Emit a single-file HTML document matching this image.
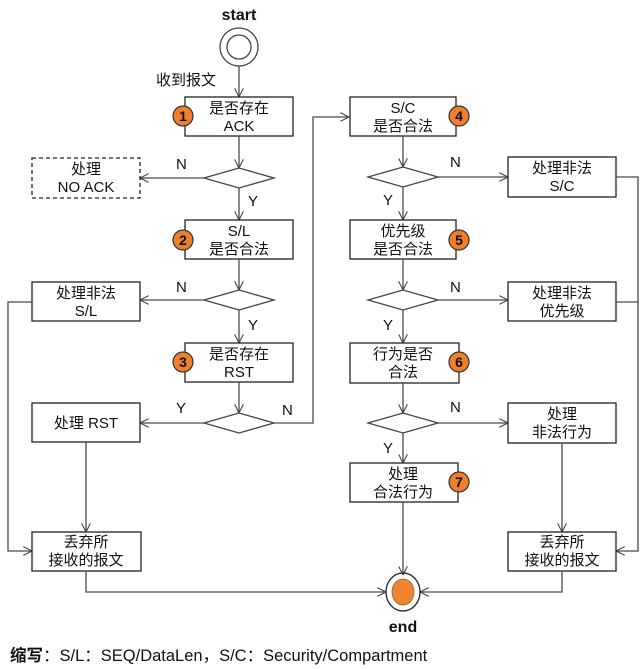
<!DOCTYPE html>
<html><head><meta charset="utf-8"><style>
html,body{margin:0;padding:0;background:#fff;width:641px;height:669px;overflow:hidden}
text{font-family:"Liberation Sans","Noto Sans CJK SC",sans-serif;font-size:15px;fill:#111}
</style></head><body>
<svg width="641" height="669" viewBox="0 0 641 669" xmlns="http://www.w3.org/2000/svg">
<defs>
<marker id="a" viewBox="0 0 10 10" refX="10" refY="5" markerWidth="9" markerHeight="9" orient="auto" markerUnits="userSpaceOnUse">
<path d="M0,0 L10,5 L0,10" fill="none" stroke="#444" stroke-width="1.2"/></marker>
</defs>
<g stroke="#4a4a4a" stroke-width="1.3" fill="none">
<circle cx="239" cy="47" r="19" stroke="#444"/><circle cx="239" cy="47" r="12" stroke="#444"/>
<line x1="239" y1="66" x2="239" y2="97" marker-end="url(#a)"/>
<rect x="185" y="97" width="108" height="39" stroke="#222"/>
<line x1="239" y1="136" x2="239" y2="168" marker-end="url(#a)"/>
<polygon points="204,178 239,168 274,178 239,188" stroke="#444"/>
<line x1="204" y1="178" x2="140" y2="178" marker-end="url(#a)"/>
<rect x="32" y="158" width="108" height="40" stroke="#222" stroke-dasharray="4,3"/>
<line x1="239" y1="188" x2="239" y2="220" marker-end="url(#a)"/>
<rect x="185" y="220" width="108" height="39" stroke="#222"/>
<line x1="239" y1="259" x2="239" y2="290" marker-end="url(#a)"/>
<polygon points="204,300 239,290 274,300 239,310" stroke="#444"/>
<line x1="204" y1="300" x2="140" y2="300" marker-end="url(#a)"/>
<rect x="32" y="282" width="108" height="39" stroke="#222"/>
<line x1="239" y1="310" x2="239" y2="343" marker-end="url(#a)"/>
<rect x="185" y="343" width="108" height="39" stroke="#222"/>
<line x1="239" y1="382" x2="239" y2="413" marker-end="url(#a)"/>
<polygon points="204,423 239,413 274,423 239,433" stroke="#444"/>
<line x1="204" y1="423" x2="140" y2="423" marker-end="url(#a)"/>
<rect x="32" y="403" width="108" height="39" stroke="#222"/>
<polyline points="274,423 313,423 313,117 349,117" marker-end="url(#a)"/>
<line x1="86" y1="442" x2="86" y2="532" marker-end="url(#a)"/>
<polyline points="32,302 8,302 8,551 32,551" marker-end="url(#a)"/>
<rect x="32" y="532" width="109" height="39" stroke="#222"/>
<polyline points="86,571 86,592 386,592" marker-end="url(#a)"/>
<rect x="350" y="97" width="106" height="39" stroke="#222"/>
<line x1="403" y1="136" x2="403" y2="167" marker-end="url(#a)"/>
<polygon points="368,177 403,167 438,177 403,187" stroke="#444"/>
<line x1="438" y1="177" x2="508" y2="177" marker-end="url(#a)"/>
<rect x="508" y="157" width="108" height="40" stroke="#222"/>
<line x1="403" y1="187" x2="403" y2="220" marker-end="url(#a)"/>
<rect x="350" y="220" width="106" height="39" stroke="#222"/>
<line x1="403" y1="259" x2="403" y2="290" marker-end="url(#a)"/>
<polygon points="368,300 403,290 438,300 403,310" stroke="#444"/>
<line x1="438" y1="300" x2="508" y2="300" marker-end="url(#a)"/>
<rect x="508" y="282" width="108" height="39" stroke="#222"/>
<line x1="403" y1="310" x2="403" y2="343" marker-end="url(#a)"/>
<rect x="350" y="343" width="109" height="40" stroke="#222"/>
<line x1="403" y1="383" x2="403" y2="413" marker-end="url(#a)"/>
<polygon points="368,423 403,413 438,423 403,433" stroke="#444"/>
<line x1="438" y1="423" x2="508" y2="423" marker-end="url(#a)"/>
<rect x="508" y="403" width="108" height="40" stroke="#222"/>
<line x1="403" y1="433" x2="403" y2="463" marker-end="url(#a)"/>
<rect x="350" y="463" width="108" height="39" stroke="#222"/>
<line x1="403" y1="502" x2="403" y2="575" marker-end="url(#a)"/>
<line x1="562" y1="443" x2="562" y2="532" marker-end="url(#a)"/>
<polyline points="616,177 638,177 638,551 616,551" marker-end="url(#a)"/>
<line x1="616" y1="302" x2="638" y2="302"/>
<rect x="508" y="532" width="108" height="39" stroke="#222"/>
<polyline points="562,571 562,592 420,592" marker-end="url(#a)"/>
<ellipse cx="403" cy="592" rx="17" ry="19" stroke="#222"/>
</g>
<ellipse cx="403" cy="592" rx="11" ry="13" fill="#ee8330" stroke="#b05a10" stroke-width="0.8"/>
<g fill="#ee7f2d" stroke="#333" stroke-width="1.2">
<circle cx="183" cy="116" r="10"/><circle cx="183" cy="240" r="10"/><circle cx="183" cy="362" r="10"/>
<circle cx="459" cy="116" r="10"/><circle cx="459" cy="240" r="10"/><circle cx="459" cy="362" r="10"/><circle cx="459" cy="482" r="10"/>
</g>
<g text-anchor="middle">
<text x="183" y="121" style="font-size:14px;font-weight:bold">1</text>
<text x="183" y="245" style="font-size:14px;font-weight:bold">2</text>
<text x="183" y="367" style="font-size:14px;font-weight:bold">3</text>
<text x="459" y="121" style="font-size:14px;font-weight:bold">4</text>
<text x="459" y="245" style="font-size:14px;font-weight:bold">5</text>
<text x="459" y="367" style="font-size:14px;font-weight:bold">6</text>
<text x="459" y="487" style="font-size:14px;font-weight:bold">7</text>
</g>
<g text-anchor="middle">
<text x="239" y="20" style="font-weight:bold;font-size:16px">start</text>
<text x="403" y="632" style="font-weight:bold;font-size:16px">end</text>
<text x="186" y="85">收到报文</text>
<text x="239" y="113">是否存在</text><text x="239" y="131">ACK</text>
<text x="86" y="174">处理</text><text x="86" y="192">NO ACK</text>
<text x="239" y="236">S/L</text><text x="239" y="254">是否合法</text>
<text x="86" y="298">处理非法</text><text x="86" y="316">S/L</text>
<text x="239" y="359">是否存在</text><text x="239" y="377">RST</text>
<text x="86" y="428">处理 RST</text>
<text x="86" y="547">丢弃所</text><text x="86" y="565">接收的报文</text>
<text x="403" y="113">S/C</text><text x="403" y="131">是否合法</text>
<text x="562" y="173">处理非法</text><text x="562" y="191">S/C</text>
<text x="403" y="236">优先级</text><text x="403" y="254">是否合法</text>
<text x="562" y="298">处理非法</text><text x="562" y="316">优先级</text>
<text x="403" y="359">行为是否</text><text x="403" y="377">合法</text>
<text x="562" y="419">处理</text><text x="562" y="437">非法行为</text>
<text x="403" y="479">处理</text><text x="403" y="497">合法行为</text>
<text x="562" y="547">丢弃所</text><text x="562" y="565">接收的报文</text>
</g>
<text x="176" y="169">N</text><text x="248" y="206">Y</text>
<text x="176" y="292">N</text><text x="248" y="330">Y</text>
<text x="176" y="413">Y</text><text x="282" y="415">N</text>
<text x="450" y="167">N</text><text x="383" y="205">Y</text>
<text x="450" y="292">N</text><text x="383" y="330">Y</text>
<text x="450" y="412">N</text><text x="383" y="453">Y</text>
<text x="10" y="661" style="font-size:16.5px"><tspan style="font-weight:bold">缩写</tspan>：S/L：SEQ/DataLen，S/C：Security/Compartment</text>
</svg>
</body></html>
